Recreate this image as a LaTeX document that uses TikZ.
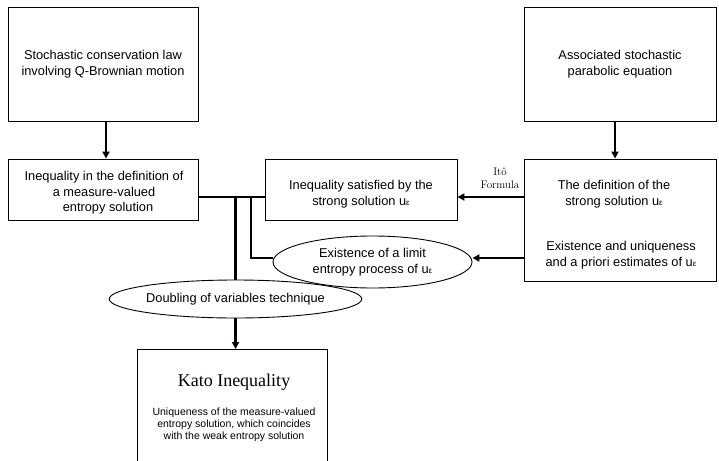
\documentclass[tikz,border=0pt]{standalone}
\usepackage{fontspec}
\setsansfont{Liberation Sans}
\newfontfamily\timesf{Liberation Serif}
\usetikzlibrary{shapes.geometric,arrows.meta}
\begin{document}
\begin{tikzpicture}[x=1pt,y=-1pt,
  box/.style={draw,line width=0.9pt,inner sep=0pt,align=center,font=\sffamily\fontsize{12.8}{15.5}\selectfont},
  txt/.style={inner sep=0pt,align=center,font=\sffamily\fontsize{12.8}{15.5}\selectfont},
  ell/.style={draw,ellipse,line width=0.9pt,inner sep=0pt,align=center,font=\sffamily\fontsize{12.8}{15.5}\selectfont},
  link/.style={line width=2.2pt},
  arr/.style={line width=2.2pt,-{Triangle[length=7pt,width=7pt]}}]
\clip (0,0) rectangle (719,460);
\useasboundingbox (0,0) rectangle (719,460);
\fill[white] (0,0) rectangle (719,460);
% boxes
\node[box,minimum width=190pt,minimum height=114pt] (A) at (103,64) {Stochastic conservation law\\involving Q-Brownian motion};
\node[box,minimum width=192pt,minimum height=114pt] (B) at (620,64) {Associated stochastic\\parabolic equation};
\node[box,minimum width=190pt,minimum height=61pt] (C) at (103,189.5) {};
\node[txt] (Ct) at (104,193) {Inequality in the definition of\\a measure-valued\\\hspace*{8pt}entropy solution};
\node[box,minimum width=192pt,minimum height=61pt] (D) at (361,189.5) {};
\node[txt] (Dt) at (361,194) {Inequality satisfied by the\\strong solution u{\fontsize{8}{8}\selectfont ε}};
\node[box,minimum width=192pt,minimum height=122pt] (E) at (620,220) {};
\node[txt] (Et1) at (614,194) {The definition of the\\strong solution u{\fontsize{8}{8}\selectfont ε}};
\node[txt] (Et2) at (621,255) {Existence and uniqueness\\and a priori estimates of u{\fontsize{8}{8}\selectfont ε}};
\node[ell,minimum width=199pt,minimum height=52pt] (L) at (372.5,262) {Existence of a limit\\entropy process of u{\fontsize{8}{8}\selectfont ε}};
\node[ell,minimum width=199pt,minimum height=38pt] (V) at (235.5,299) {Doubling of variables technique};
\node[box,minimum width=190pt,minimum height=130pt,anchor=north] (K) at (232,349) {};
\node[inner sep=0pt,font=\timesf\fontsize{18}{20}\selectfont] (Kt) at (234,382) {Kato Inequality};
\node[txt,font=\sffamily\fontsize{10.5}{12}\selectfont] (Ks) at (234,425) {Uniqueness of the measure-valued\\entropy solution, which coincides\\with the weak entropy solution};
\node[inner sep=0pt,align=center,font=\fontsize{11}{13}\selectfont] (ito) at (500,178.5) {Itô\\Formula};
% connectors
\coordinate (j1) at (235.5,197);
\coordinate (j2) at (251,197);
\draw[arr] (A.south -| 106,0) -- (C.north -| 106,0);
\draw[arr] (B.south -| 615,0) -- (E.north -| 615,0);
\draw[arr] (E.west |- 0,197) -- (D.east |- 0,197);
\draw[arr] (E.west |- 0,258) -- (L.east |- 0,258);
\draw[link] (C.east |- 0,197) -- (D.west |- 0,197);
\draw[link] (j1) -- (V.north);
\draw[link] (j2) |- (L.west |- 0,258);
\draw[arr] (V.south) -- (V.south |- K.north);
\end{tikzpicture}
\end{document}
